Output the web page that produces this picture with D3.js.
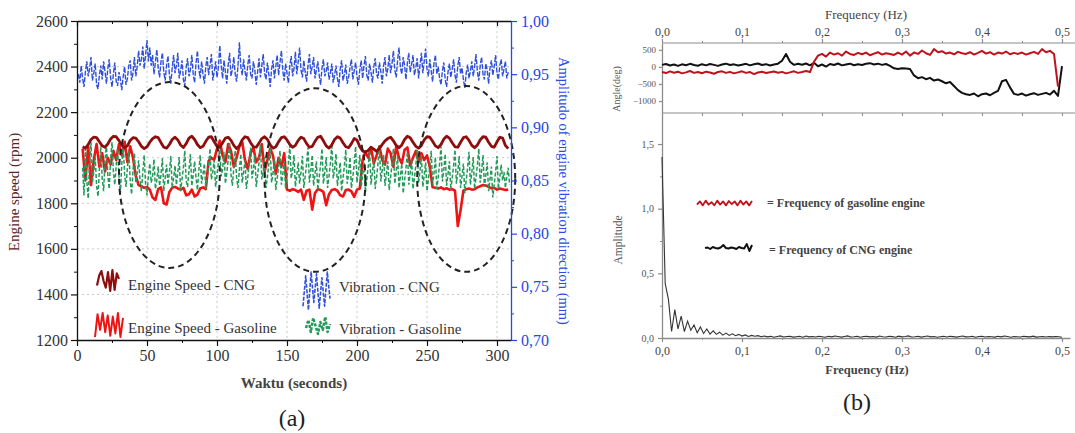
<!DOCTYPE html>
<html><head><meta charset="utf-8">
<script src="https://cdn.jsdelivr.net/npm/d3@7"></script>
<style>body{margin:0;background:#fff}svg{display:block}</style>
</head><body>
<svg id="chart" width="1075" height="433"></svg>
<script>
// ---------- Panel (a): engine speed and vibration over time ----------
// Engine speed samples every 2 s, from 4 s to 308 s
const speedTime = d3.range(4, 309, 2);
const speedCNG = [
 2048,2042,2058,2080,2090,2088,2070,2052,2046,2060,
 2082,2094,2092,2075,2055,2044,2052,2076,2088,2086,
 2070,2050,2040,2048,2068,2084,2092,2088,2066,2046,
 2042,2058,2080,2090,2078,2056,2045,2062,2086,2094,
 2080,2058,2044,2050,2072,2090,2092,2070,2050,2046,
 2066,2086,2090,2076,2054,2040,2052,2078,2092,2088,
 2066,2048,2046,2064,2084,2092,2080,2056,2042,2048,
 2070,2088,2092,2078,2058,2046,2054,2076,2090,2084,
 2062,2046,2050,2072,2090,2094,2074,2052,2042,2056,
 2080,2092,2086,2066,2048,2044,2062,2084,2078,2048,
 2030,2024,2032,2046,2038,2028,2040,2058,2074,2084,
 2090,2074,2054,2044,2056,2080,2094,2088,2068,2050,
 2042,2054,2078,2092,2090,2072,2052,2044,2058,2082,
 2094,2086,2066,2048,2046,2068,2088,2092,2076,2054,
 2044,2056,2078,2092,2090,2068,2050,2046,2070,2090,
 2086,2054,2040];
const speedGasoline = [
 2040,1900,2050,1880,1990,2060,1960,2020,1940,2000,
 1970,2030,1990,2060,2010,2070,1980,2050,2000,1920,
 1880,1875,1868,1872,1860,1825,1815,1862,1870,1800,
 1795,1850,1868,1872,1865,1860,1868,1835,1840,1860,
 1830,1838,1865,1870,1862,1985,2000,1990,2040,2075,
 2010,1980,2060,2030,1960,2000,2050,2070,1990,1950,
 2020,2045,1980,2000,2060,1940,1990,2040,2010,1930,
 2000,1960,2020,1860,1855,1862,1858,1850,1860,1815,
 1855,1860,1772,1845,1862,1858,1850,1792,1840,1858,
 1862,1855,1835,1830,1858,1860,1852,1828,1860,1865,
 1990,2025,2000,2045,1975,2010,2050,1990,1970,2040,
 2020,1960,2050,2000,1975,2035,2045,1965,2000,2030,
 1980,2020,1990,2010,1960,1870,1868,1865,1870,1862,
 1866,1860,1862,1855,1700,1770,1855,1862,1865,1860,
 1862,1870,1875,1880,1878,1872,1866,1868,1860,1865,
 1862,1858,1860];

// Vibration amplitude (mm), CNG engine, every 1 s from 1 s to 308 s
const vibCNGTime = d3.range(1, 309, 1);
const vibCNG = [
 .950,.942,.958,.946,.938,.952,.962,.948,.955,.966,.944,.951,.960,.940,.936,.949,.958,.945,.962,.953,
 .941,.955,.964,.947,.938,.950,.961,.943,.939,.952,.945,.935,.948,.957,.940,.946,.958,.963,.944,.951,
 .966,.948,.957,.972,.958,.964,.976,.955,.968,.982,.962,.975,.958,.968,.950,.961,.973,.956,.947,.962,
 .970,.952,.944,.959,.967,.949,.941,.956,.968,.951,.958,.970,.946,.953,.963,.945,.939,.957,.965,.948,
 .954,.968,.950,.942,.960,.972,.955,.946,.962,.950,.941,.957,.966,.949,.958,.969,.944,.952,.962,.947,
 .956,.977,.958,.946,.963,.952,.941,.959,.970,.948,.955,.966,.950,.943,.958,.980,.957,.949,.964,.953,
 .944,.959,.968,.950,.946,.962,.954,.940,.952,.965,.947,.958,.969,.951,.945,.961,.950,.938,.955,.963,
 .946,.957,.968,.949,.961,.972,.953,.944,.960,.951,.942,.958,.967,.948,.955,.971,.950,.962,.975,.954,
 .947,.963,.952,.943,.958,.969,.950,.957,.966,.946,.954,.962,.949,.940,.956,.964,.948,.953,.961,.945,
 .951,.960,.942,.949,.958,.946,.938,.955,.963,.944,.950,.959,.941,.947,.956,.964,.945,.953,.961,.948,
 .940,.954,.963,.946,.958,.967,.949,.944,.960,.952,.942,.957,.965,.950,.946,.961,.953,.941,.958,.966,
 .948,.955,.968,.951,.960,.972,.954,.947,.963,.975,.956,.950,.966,.958,.945,.961,.970,.952,.959,.968,
 .949,.956,.965,.946,.958,.970,.951,.962,.974,.955,.948,.964,.953,.943,.960,.968,.950,.957,.946,.940,
 .953,.961,.945,.938,.952,.960,.947,.955,.964,.949,.942,.958,.966,.950,.956,.945,.937,.951,.959,.946,
 .953,.962,.948,.957,.969,.952,.944,.958,.966,.950,.945,.960,.954,.941,.956,.963,.949,.957,.968,.951,
 .945,.958,.964,.948,.955,.962,.946,.952];

// Vibration amplitude (mm), gasoline engine, every 1 s from 4 s to 309 s
const vibGasTime = d3.range(4, 310, 1);
const vibGasoline = [
 .862,.836,.880,.850,.833,.866,.886,.848,.858,.872,.845,.835,.860,.882,.852,.840,.868,.884,.855,.842,
 .870,.886,.858,.846,.864,.880,.853,.838,.866,.884,.856,.844,.862,.878,.850,.837,.859,.876,.848,.857,
 .869,.851,.840,.858,.874,.846,.836,.855,.866,.848,.854,.870,.842,.850,.863,.845,.856,.871,.840,.853,
 .865,.846,.858,.873,.843,.852,.864,.846,.857,.872,.840,.851,.862,.878,.850,.844,.860,.875,.845,.855,
 .868,.853,.841,.859,.874,.847,.856,.866,.842,.852,.864,.880,.851,.858,.869,.844,.855,.867,.882,.854,
 .861,.877,.847,.857,.870,.886,.856,.845,.862,.878,.853,.843,.860,.875,.848,.858,.869,.842,.853,.866,
 .881,.852,.860,.874,.844,.855,.867,.884,.851,.858,.872,.843,.853,.865,.880,.848,.857,.871,.841,.852,
 .864,.878,.846,.856,.868,.842,.853,.866,.883,.852,.860,.874,.844,.855,.867,.847,.858,.873,.843,.854,
 .866,.881,.848,.859,.874,.845,.856,.868,.841,.853,.865,.880,.847,.858,.872,.843,.854,.866,.885,.852,
 .860,.875,.845,.856,.867,.840,.852,.864,.879,.847,.857,.872,.843,.853,.865,.882,.848,.859,.874,.844,
 .855,.867,.839,.851,.863,.878,.846,.857,.871,.842,.853,.866,.883,.849,.860,.874,.845,.856,.868,.841,
 .853,.865,.880,.847,.858,.873,.843,.854,.866,.838,.850,.862,.877,.846,.857,.871,.842,.852,.864,.879,
 .848,.859,.874,.844,.855,.867,.840,.851,.863,.878,.846,.857,.872,.842,.853,.866,.882,.849,.860,.875,
 .845,.856,.868,.841,.852,.864,.879,.847,.858,.873,.843,.854,.866,.838,.850,.862,.877,.846,.857,.872,
 .842,.853,.865,.880,.848,.859,.874,.844,.855,.867,.840,.851,.863,.834,.846,.858,.873,.842,.853,.865,
 .850,.858,.843,.854,.862,.846];

// Highlighted regions: centre time (s), centre speed (rpm), half-width (s), half-height (rpm)
const regionCentreT = [66, 170, 278];
const regionCentreRpm = [1924, 1902, 1907];
const regionHalfT = [36, 36, 35];
const regionHalfRpm = [408, 403, 408];

const timeTicks = [0, 50, 100, 150, 200, 250, 300];
const timeMinorTicks = [25, 75, 125, 175, 225, 275];
const rpmTicks = [1200, 1400, 1600, 1800, 2000, 2200, 2400, 2600];
const rpmMinorTicks = [1300, 1500, 1700, 1900, 2100, 2300, 2500];
const vibTicks = [0.70, 0.75, 0.80, 0.85, 0.90, 0.95, 1.00];
const vibMinorTicks = [0.725, 0.775, 0.825, 0.875, 0.925, 0.975];

const legendA = ["Engine Speed - CNG", "Engine Speed - Gasoline", "Vibration - CNG", "Vibration - Gasoline"];
// little squiggles used as legend keys (normalised 0..1 heights)
const iconSpeedCNG = [0.3, 0.75, 0.95, 0.5, 0.2, 0.9, 0.05, 1.0, 0.1, 0.85, 0.6];
const iconSpeedGas = [0.0, 0.95, 0.3, 1.0, 0.2, 0.9, 0.05, 0.85, 0.15, 1.0, 0.0, 0.8];
const iconVibCNG = [0.1, 0.9, 0.0, 1.0, 0.2, 0.95, 0.05, 0.85, 0.1, 1.0, 0.3];
const iconVibGas = [0.4, 0.8, 0.2, 0.9, 0.5, 0.1, 0.7, 0.3, 0.95, 0.2, 0.6];

// ---------- Panel (b): frequency analysis ----------
const angleFreq = d3.range(0, 0.5001, 0.005);
const angleCNG = [
 60, 85, 40, 70, 30, 75, 50, 90, 55, 35,
 80, 45, 85, 60, 30, 70, 95, 55, 75, 40,
 65, 90, 45, 75, 100, 55, 80, 40, 70, 95,
 180, 380, 150, 60, 90, 65, 100, 45, 120, 20,
 70, 10, 85, 55, 100, 45, 70, 95, 50, 75,
 55, 90, 110, 70, 95, 60, 85, 30, -40, -60,
 -40, -50, -60, -250, -330, -300, -360, -320, -400, -370,
 -420, -480, -440, -560, -680, -760, -800, -820, -780, -860,
 -800, -780, -830, -760, -700, -420, -380, -600, -790, -820,
 -780, -840, -800, -770, -820, -790, -760, -810, -700, -850,
 20];
const angleGasoline = [
 -150, -180, -130, -170, -140, -190, -160, -120, -175, -150,
 -185, -140, -165, -200, -150, -130, -175, -145, -190, -160,
 -130, -175, -150, -210, -165, -140, -180, -155, -135, -170,
 -145, -190, -160, -130, -175, -150, -120, -150, 150, 330,
 380, 300, 420, 360, 400, 330, 450, 380, 350, 410,
 370, 420, 340, 390, 430, 360, 400, 380, 350, 420,
 360, 450, 330, 420, 380, 480, 400, 350, 520, 430,
 460, 390, 420, 370, 440, 400, 380, 430, 360, 410,
 470, 390, 430, 360, 420, 390, 450, 370, 410, 380,
 420, 360, 400, 440, 380, 520, 430, 470, 380, -580];

const ampFreq = d3.range(0, 0.5001, 0.004);
const ampCNG = [
 1.40, 0.42, 0.30, 0.05, 0.22, 0.07, 0.17, 0.05, 0.13, 0.06, 0.10, 0.04, 0.085, 0.035, 0.07, 0.03,
 0.055, 0.028, 0.045, 0.022, 0.038, 0.02, 0.032, 0.018, 0.028, 0.015, 0.024, 0.012, 0.02, 0.014, 0.018, 0.01,
 .015,.009,.013,.006,.012,.016,.008,.011,.014,.007,
 .010,.013,.006,.015,.009,.012,.008,.014,.010,.006,
 .013,.009,.015,.011,.007,.012,.016,.008,.010,.013,
 .006,.011,.014,.009,.012,.007,.015,.010,.008,.013,
 .011,.006,.014,.009,.012,.016,.008,.010,.013,.007,
 .011,.015,.009,.012,.006,.010,.014,.008,.013,.011,
 .007,.012,.015,.009,.010,.013,.006,.011,.014,.008,
 .012,.010,.007,.013,.009,.015,.011,.006,.012,.010,
 .008,.013,.011,.009,.014,.007,.010,.012,.008,.011,
 .009,.012,.010,.006];

const freqTicks = [0, 0.1, 0.2, 0.3, 0.4, 0.5];
const freqMinorTicks = [0.05, 0.15, 0.25, 0.35, 0.45];
const angleTicks = [500, 0, -500, -1000];
const ampTicks = [0, 0.5, 1.0, 1.5];
const ampMinorTicks = [0.25, 0.75, 1.25];
const legendB = ["= Frequency of gasoline engine", "= Frequency of CNG engine"];
const iconFreqGas = [0.3, 0.7, 0.2, 0.8, 0.3, 0.6, 0.2, 0.8, 0.3, 0.7, 0.2, 0.75, 0.35, 0.7, 0.2, 0.8, 0.3, 0.7, 0.2, 0.75];
const iconFreqCNG = [0.5, 0.55, 0.4, 0.6, 0.5, 0.45, 0.55, 0.8, 0.5, 0.45, 0.55, 0.5, 0.4, 0.6, 0.5, 0.45, 0.9, 0.2, 0.8];

// ---------- drawing ----------
const svg = d3.select("#chart");
const serif = "'Liberation Serif','Times New Roman',serif";
const comma = d3.formatLocale({decimal: ",", thousands: ".", grouping: [3], currency: ["", ""]});
const f1 = comma.format(".1f"), f2 = comma.format(".2f");

const xA = d3.scaleLinear().domain([0, 310]).range([77, 511]);
const yA = d3.scaleLinear().domain([1200, 2600]).range([340, 21]);
const yA2 = d3.scaleLinear().domain([0.70, 1.00]).range([340, 21]);

const gA = svg.append("g");
svg.append("clipPath").attr("id", "clipA").append("rect")
  .attr("x", xA(0)).attr("y", yA(2600)).attr("width", xA(310) - xA(0)).attr("height", yA(1200) - yA(2600));

// dotted grid
gA.append("g").selectAll("line").data(timeTicks.filter(v => v > 0)).join("line")
  .attr("x1", d => xA(d)).attr("x2", d => xA(d)).attr("y1", yA(2600)).attr("y2", yA(1200))
  .attr("stroke", "#c9c9c9").attr("stroke-dasharray", "2,3");
gA.append("g").selectAll("line").data(rpmTicks.filter(v => v > 1200 && v < 2600)).join("line")
  .attr("x1", xA(0)).attr("x2", xA(310)).attr("y1", d => yA(d)).attr("y2", d => yA(d))
  .attr("stroke", "#c9c9c9").attr("stroke-dasharray", "2,3");

const series = gA.append("g").attr("clip-path", "url(#clipA)");
const lineSpeed = d3.line().x((d, i) => xA(speedTime[i])).y(d => yA(d)).curve(d3.curveLinear);
series.append("path").datum(vibCNG)
  .attr("d", d3.line().x((d, i) => xA(vibCNGTime[i])).y(d => yA2(d)))
  .attr("fill", "none").attr("stroke", "#2f4fdc").attr("stroke-width", 1.4).attr("stroke-dasharray", "5,1.5");
series.append("path").datum(speedGasoline).attr("d", lineSpeed)
  .attr("fill", "none").attr("stroke", "#ee1414").attr("stroke-width", 2.6).attr("stroke-linejoin", "round");
series.append("path").datum(vibGasoline)
  .attr("d", d3.line().x((d, i) => xA(vibGasTime[i])).y(d => yA2(d)))
  .attr("fill", "none").attr("stroke", "#23995a").attr("stroke-width", 1.5).attr("stroke-dasharray", "4,2");
series.append("path").datum(speedCNG).attr("d", lineSpeed)
  .attr("fill", "none").attr("stroke", "#8e0d0d").attr("stroke-width", 2.8).attr("stroke-linejoin", "round");

// dashed ellipses around the highlighted regions
gA.append("g").selectAll("ellipse").data(regionCentreT).join("ellipse")
  .attr("cx", d => xA(d)).attr("cy", (d, i) => yA(regionCentreRpm[i]))
  .attr("rx", (d, i) => xA(d + regionHalfT[i]) - xA(d))
  .attr("ry", (d, i) => yA(regionCentreRpm[i] - regionHalfRpm[i]) - yA(regionCentreRpm[i]))
  .attr("fill", "none").attr("stroke", "#222").attr("stroke-width", 2).attr("stroke-dasharray", "6,4");

function styleAxis(g, color, size) {
  g.select(".domain").attr("stroke", color).attr("stroke-width", 1.3);
  g.selectAll(".tick line").attr("stroke", color).attr("stroke-width", 1.2);
  g.selectAll("text").attr("font-family", serif).attr("font-size", size).attr("fill", color === "#111" ? "#333" : color);
}
// axes of panel (a)
gA.append("g").attr("transform", `translate(0,${yA(1200)})`)
  .call(d3.axisBottom(xA).tickValues(timeTicks).tickSize(6).tickSizeOuter(0).tickPadding(4).tickFormat(d3.format("d")))
  .call(g => styleAxis(g, "#111", 16));
gA.append("g").attr("transform", `translate(0,${yA(1200)})`)
  .call(d3.axisBottom(xA).tickValues(timeMinorTicks).tickSize(3).tickFormat(""))
  .call(g => { g.select(".domain").remove(); g.selectAll("line").attr("stroke", "#111"); });
gA.append("g").attr("transform", `translate(0,${yA(2600)})`)
  .call(d3.axisTop(xA).tickValues(timeTicks).tickSize(-5).tickSizeOuter(0).tickFormat(""))
  .call(g => styleAxis(g, "#111", 16));
gA.append("g").attr("transform", `translate(0,${yA(2600)})`)
  .call(d3.axisTop(xA).tickValues(timeMinorTicks).tickSize(-3).tickFormat(""))
  .call(g => { g.select(".domain").remove(); g.selectAll("line").attr("stroke", "#111"); });
gA.append("g").attr("transform", `translate(${xA(0)},0)`)
  .call(d3.axisLeft(yA).tickValues(rpmTicks).tickSize(6).tickSizeOuter(0).tickPadding(3).tickFormat(d3.format("d")))
  .call(g => styleAxis(g, "#111", 16));
gA.append("g").attr("transform", `translate(${xA(0)},0)`)
  .call(d3.axisLeft(yA).tickValues(rpmMinorTicks).tickSize(3).tickFormat(""))
  .call(g => { g.select(".domain").remove(); g.selectAll("line").attr("stroke", "#111"); });
gA.append("g").attr("transform", `translate(${xA(310)},0)`)
  .call(d3.axisRight(yA2).tickValues(vibTicks).tickSize(6).tickSizeOuter(0).tickPadding(4).tickFormat(f2))
  .call(g => styleAxis(g, "#2447e6", 16));
gA.append("g").attr("transform", `translate(${xA(310)},0)`)
  .call(d3.axisRight(yA2).tickValues(vibMinorTicks).tickSize(3).tickFormat(""))
  .call(g => { g.select(".domain").remove(); g.selectAll("line").attr("stroke", "#2447e6"); });

// axis titles of panel (a)
gA.append("text").attr("transform", "translate(19,192) rotate(-90)").attr("text-anchor", "middle")
  .attr("font-family", serif).attr("font-size", 15).attr("fill", "#5a2323").text("Engine speed (rpm)");
gA.append("text").attr("transform", "translate(559,191) rotate(90)").attr("text-anchor", "middle")
  .attr("font-family", serif).attr("font-size", 14.5).attr("fill", "#2a4be6").text("Amplitudo of engine vibration direction (mm)");
gA.append("text").attr("x", 294).attr("y", 388).attr("text-anchor", "middle")
  .attr("font-family", serif).attr("font-size", 15).attr("font-weight", 600).attr("fill", "#444").text("Waktu (seconds)");
gA.append("text").attr("x", 292).attr("y", 426).attr("text-anchor", "middle")
  .attr("font-family", serif).attr("font-size", 24).attr("fill", "#222").text("(a)");

// legend of panel (a)
function icon(g, vals, x, y, w, h, color, width, dash) {
  const sx = d3.scaleLinear().domain([0, vals.length - 1]).range([x, x + w]);
  const sy = d3.scaleLinear().domain([0, 1]).range([y + h, y]);
  g.append("path").datum(vals).attr("d", d3.line().x((d, i) => sx(i)).y(d => sy(d)))
    .attr("fill", "none").attr("stroke", color).attr("stroke-width", width)
    .attr("stroke-dasharray", dash || null).attr("stroke-linejoin", "round");
}
const legA = gA.append("g");
icon(legA, iconSpeedCNG, 97, 270, 22, 22, "#8e0d0d", 2.2);
icon(legA, iconSpeedGas, 95, 313, 28, 24, "#ee1414", 2);
icon(legA, iconVibCNG, 303, 272, 27, 38, "#2f4fdc", 1.6, "4,1.5");
icon(legA, iconVibGas, 306, 316, 24, 20, "#23995a", 2.5, "3,1.5");
legA.selectAll("text").data(legendA).join("text")
  .attr("x", (d, i) => i < 2 ? 128 : 339)
  .attr("y", (d, i) => [290, 333, 292, 334][i])
  .attr("font-family", serif).attr("font-size", 15).attr("fill", "#333").text(d => d);

// ---------- panel (b) ----------
const xB = d3.scaleLinear().domain([0, 0.51]).range([662, 1070]);
const yAng = d3.scaleLinear().domain([-1350, 700]).range([113, 43]);
const yAmp = d3.scaleLinear().domain([0, 1.74]).range([338, 113]);
const gB = svg.append("g");
const frame = "#8c8c8c";

// frame of the angle plot
gB.append("line").attr("x1", xB(0)).attr("x2", 1075).attr("y1", yAng.range()[1]).attr("y2", yAng.range()[1]).attr("stroke", frame);
gB.append("line").attr("x1", xB(0)).attr("x2", 1075).attr("y1", yAng.range()[0]).attr("y2", yAng.range()[0]).attr("stroke", frame);

gB.append("g").attr("transform", `translate(0,${yAng.range()[1]})`)
  .call(d3.axisTop(xB).tickValues(freqTicks).tickSize(4).tickSizeOuter(0).tickPadding(3).tickFormat(f1))
  .call(g => { styleAxis(g, frame, 12); g.select(".domain").remove(); g.selectAll("text").attr("fill", "#444"); });
gB.append("g").attr("transform", `translate(0,${yAng.range()[1]})`)
  .call(d3.axisTop(xB).tickValues(freqMinorTicks).tickSize(2).tickFormat(""))
  .call(g => { g.select(".domain").remove(); g.selectAll("line").attr("stroke", frame); });
gB.append("g").attr("transform", `translate(0,${yAng.range()[0]})`)
  .call(d3.axisBottom(xB).tickValues(freqTicks.concat(freqMinorTicks)).tickSize(3).tickFormat(""))
  .call(g => { g.select(".domain").remove(); g.selectAll("line").attr("stroke", frame); });
gB.append("g").attr("transform", `translate(${xB(0)},0)`)
  .call(d3.axisLeft(yAng).tickValues(angleTicks).tickSize(3).tickSizeOuter(0).tickPadding(3).tickFormat(d3.format("d")))
  .call(g => { styleAxis(g, frame, 9); g.selectAll("text").attr("fill", "#555"); });

gB.append("path").datum(angleCNG)
  .attr("d", d3.line().x((d, i) => xB(angleFreq[i])).y(d => yAng(d)))
  .attr("fill", "none").attr("stroke", "#111").attr("stroke-width", 2).attr("stroke-linejoin", "round");
gB.append("path").datum(angleGasoline)
  .attr("d", d3.line().x((d, i) => xB(angleFreq[i])).y(d => yAng(d)))
  .attr("fill", "none").attr("stroke", "#c0121c").attr("stroke-width", 2).attr("stroke-linejoin", "round");

gB.append("text").attr("x", 866).attr("y", 19).attr("text-anchor", "middle")
  .attr("font-family", serif).attr("font-size", 13).attr("fill", "#444").text("Frequency (Hz)");
gB.append("text").attr("transform", "translate(620,89) rotate(-90)").attr("text-anchor", "middle")
  .attr("font-family", serif).attr("font-size", 10).attr("fill", "#555").text("Angle(deg)");

// amplitude plot
gB.append("g").attr("transform", `translate(0,${yAmp(0)})`)
  .call(d3.axisBottom(xB).tickValues(freqTicks).tickSize(4).tickSizeOuter(0).tickPadding(4).tickFormat(f1))
  .call(g => { styleAxis(g, frame, 12); g.selectAll("text").attr("fill", "#444"); });
gB.append("g").attr("transform", `translate(0,${yAmp(0)})`)
  .call(d3.axisBottom(xB).tickValues(freqMinorTicks).tickSize(2).tickFormat(""))
  .call(g => { g.select(".domain").remove(); g.selectAll("line").attr("stroke", frame); });
gB.append("g").attr("transform", `translate(${xB(0)},0)`)
  .call(d3.axisLeft(yAmp).tickValues(ampTicks).tickSize(4).tickSizeOuter(0).tickPadding(4).tickFormat(f1))
  .call(g => { styleAxis(g, frame, 10); g.selectAll("text").attr("fill", "#555"); });
gB.append("g").attr("transform", `translate(${xB(0)},0)`)
  .call(d3.axisLeft(yAmp).tickValues(ampMinorTicks).tickSize(2).tickFormat(""))
  .call(g => { g.select(".domain").remove(); g.selectAll("line").attr("stroke", frame); });

gB.append("path").datum(ampCNG)
  .attr("d", d3.line().x((d, i) => xB(ampFreq[i])).y(d => yAmp(d)))
  .attr("fill", "none").attr("stroke", "#333").attr("stroke-width", 1.1);

gB.append("text").attr("x", 867).attr("y", 374).attr("text-anchor", "middle")
  .attr("font-family", serif).attr("font-size", 12.5).attr("font-weight", 600).attr("fill", "#444").text("Frequency (Hz)");
gB.append("text").attr("transform", "translate(622,240) rotate(-90)").attr("text-anchor", "middle")
  .attr("font-family", serif).attr("font-size", 11.5).attr("fill", "#555").text("Amplitude");
gB.append("text").attr("x", 857).attr("y", 410).attr("text-anchor", "middle")
  .attr("font-family", serif).attr("font-size", 24).attr("fill", "#222").text("(b)");

// legend of panel (b)
const legB = gB.append("g");
icon(legB, iconFreqGas, 697, 199, 55, 8, "#c0121c", 1.8);
icon(legB, iconFreqCNG, 705, 243, 47, 10, "#111", 2);
legB.selectAll("text").data(legendB).join("text")
  .attr("x", (d, i) => [767, 769][i]).attr("y", (d, i) => [207, 254][i])
  .attr("font-family", serif).attr("font-size", 12).attr("font-weight", 700).attr("fill", "#444").text(d => d);
</script>
</body></html>
